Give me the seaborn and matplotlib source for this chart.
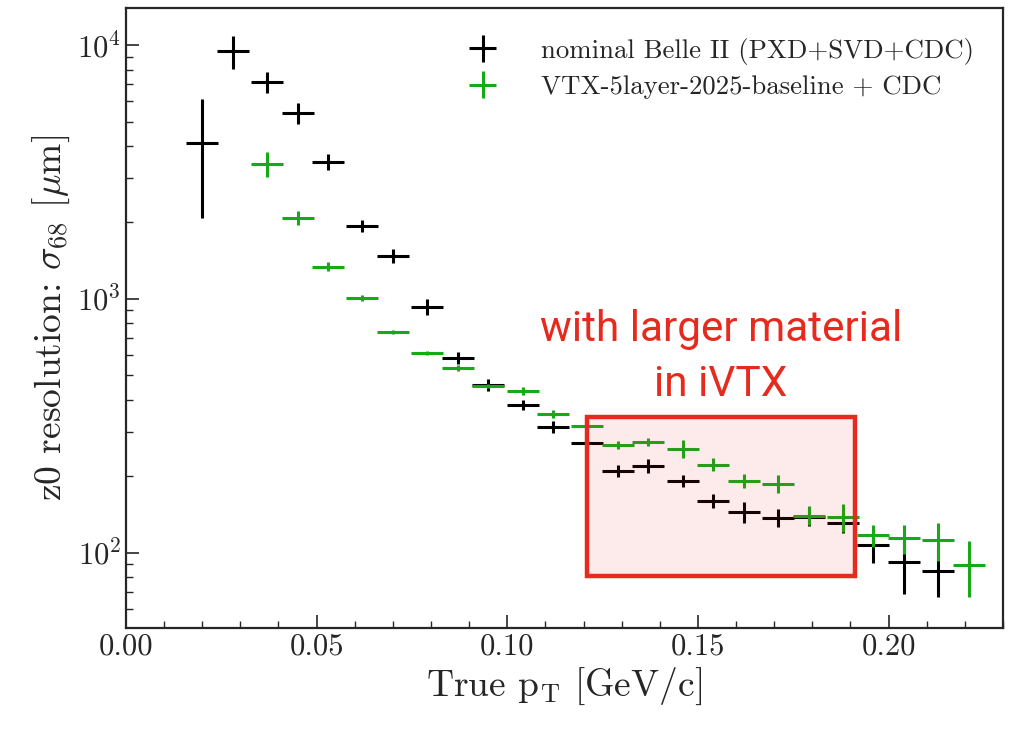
import numpy as np
import pandas as pd
import matplotlib
matplotlib.use("Agg")
import matplotlib.pyplot as plt
from matplotlib.patches import Rectangle
import seaborn as sns

# ---- data ----
pt_centers = [0.020, 0.028, 0.037, 0.045, 0.053, 0.062, 0.070, 0.079, 0.087, 0.095,
              0.104, 0.112, 0.121, 0.129, 0.137, 0.146, 0.154, 0.162, 0.171, 0.179,
              0.188, 0.196, 0.204, 0.213, 0.221]
bin_half_width = 0.0042

nominal_pt = pt_centers[0:24]
nominal_res = [4115, 9440, 7130, 5380, 3474, 1938, 1476, 933, 585, 457,
               383, 313, 271, 210, 220, 192, 160, 145, 137, 138,
               131, 107, 92, 85]
nominal_err = [2025, 1400, 675, 510, 261, 108, 96, 70, 32, 25,
               17, 17, 12, 11, 14, 10, 10, 14, 11, 11,
               12, 16, 23, 18]

vtx_pt = pt_centers[2:25]
vtx_res = [3410, 2083, 1341, 1006, 741, 612, 535, 453, 435, 351,
           315, 266, 274, 256, 222, 192, 187, 140, 138, 117,
           114, 112, 89]
vtx_err = [380, 135, 55, 28, 13, 11, 16, 8, 16, 13,
           13, 10, 10, 21, 13, 12, 15, 12, 17, 12,
           15, 19, 22]

labels = ["nominal Belle II (PXD+SVD+CDC)", "VTX-5layer-2025-baseline + CDC"]
colors = ["black", "#17a917"]

box_x = (0.1209, 0.1912)
box_y = (80.7, 343.0)
note_text = "with larger material\nin iVTX"
note_pos = (0.156, 590.0)

# ---- style ----
sns.set_style("ticks")
plt.rcParams["font.family"] = ["cmr10", "DejaVu Serif"]
plt.rcParams["mathtext.fontset"] = "cm"
plt.rcParams["axes.formatter.use_mathtext"] = True
plt.rcParams["axes.unicode_minus"] = False

fig = plt.figure(figsize=(10.11, 7.31), dpi=100)
ax = fig.add_axes([0.1246, 0.141, 0.8675, 0.848])

df_nom = pd.DataFrame({"pt": nominal_pt, "res": nominal_res, "err": nominal_err})
df_vtx = pd.DataFrame({"pt": vtx_pt, "res": vtx_res, "err": vtx_err})

for df, lab, col in [(df_nom, labels[0], colors[0]), (df_vtx, labels[1], colors[1])]:
    ax.errorbar(df["pt"], df["res"], xerr=bin_half_width, yerr=df["err"],
                fmt="none", ecolor=col, elinewidth=2.2, capsize=0, label=lab)

ax.set_yscale("log")
ax.set_xlim(0, 0.230)
ax.set_ylim(50.5, 14000)

# highlight box
red = "#e62a1e"
ax.add_patch(Rectangle((box_x[0], box_y[0]), box_x[1] - box_x[0], box_y[1] - box_y[0],
                       facecolor=red, alpha=0.09, edgecolor="none", zorder=5))
ax.add_patch(Rectangle((box_x[0], box_y[0]), box_x[1] - box_x[0], box_y[1] - box_y[0],
                       facecolor="none", edgecolor=red, linewidth=3.2, zorder=6))
ax.text(note_pos[0], note_pos[1], note_text, color=red, ha="center", va="center",
        fontsize=30.5, family=["Roboto", "DejaVu Sans"], linespacing=1.45, zorder=7)

ax.set_xlabel(r"True $\mathrm{p_T}$ [GeV/c]", fontsize=27)
ax.set_ylabel(r"z0 resolution: $\sigma_{68}$ [$\mu$m]", fontsize=27)

ax.xaxis.set_major_locator(matplotlib.ticker.MultipleLocator(0.05))
ax.xaxis.set_minor_locator(matplotlib.ticker.MultipleLocator(0.01))
ax.xaxis.set_major_formatter(matplotlib.ticker.FormatStrFormatter("%.2f"))
ax.tick_params(which="both", direction="in", top=False, right=False, labelsize=22)
ax.tick_params(which="major", length=9.5, width=1.2)
ax.tick_params(which="minor", length=4.8, width=1.0)
for s in ax.spines.values():
    s.set_linewidth(1.6)
    s.set_visible(True)

leg = ax.legend(loc="upper right", frameon=False, fontsize=19.3, handlelength=1.1,
                borderaxespad=0.7, labelspacing=0.4, handletextpad=1.6)

fig.savefig("out.png", dpi=100)
